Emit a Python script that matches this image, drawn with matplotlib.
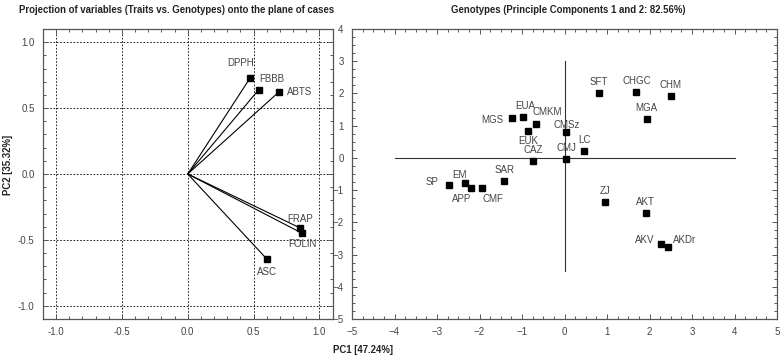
import numpy as np
import matplotlib.pyplot as plt
from matplotlib.ticker import MultipleLocator

plt.rcParams['font.family'] = ['Liberation Sans', 'DejaVu Sans']

# variable loadings (left panel)
traits = ["DPPH", "FBBB", "ABTS", "FRAP", "FOLIN", "ASC"]
load_pc1 = [0.476, 0.54, 0.69, 0.855, 0.87, 0.60]
load_pc2 = [0.732, 0.64, 0.62, -0.41, -0.45, -0.644]

# genotype scores (right panel)
genotypes = ["SFT", "CHGC", "CHM", "MGA", "MGS", "EUA", "CMKM", "EUK", "CMSz",
             "LC", "CAZ", "CMJ", "SP", "EM", "APP", "CMF", "SAR", "ZJ", "AKT",
             "AKV", "AKDr"]
score_pc1 = [0.81, 1.69, 2.50, 1.93, -1.24, -0.98, -0.66, -0.86, 0.04,
             0.47, -0.73, 0.04, -2.72, -2.35, -2.20, -1.94, -1.42, 0.95, 1.91,
             2.27, 2.44]
score_pc2 = [2.00, 2.03, 1.92, 1.22, 1.24, 1.27, 1.06, 0.85, 0.80,
             0.21, -0.09, -0.04, -0.85, -0.78, -0.92, -0.92, -0.72, -1.38, -1.71,
             -2.68, -2.77]

# label offsets in pixels (dx, dy, ha, va)
trait_off = {"DPPH": (4, 10, "right", "bottom"), "FBBB": (0, 6, "left", "bottom"),
             "ABTS": (8, 0, "left", "center"), "FRAP": (0, 4, "center", "bottom"),
             "FOLIN": (0, -6, "center", "top"), "ASC": (0, -8, "center", "top")}
geno_off = {"MGS": (-8, -2, "right", "center"), "EUA": (2, 6, "center", "bottom"),
            "CMKM": (-4, 7, "left", "bottom"), "EUK": (0, -5, "center", "top"),
            "CMSz": (0, 2, "center", "bottom"), "SP": (-10, 3, "right", "center"),
            "EM": (-5, 3, "center", "bottom"), "APP": (-9, -6, "center", "top"),
            "CMF": (11, -6, "center", "top"), "AKV": (-6, 4, "right", "center"),
            "AKDr": (5, 7, "left", "center")}

txt_col = "#444444"
frame_col = "#555555"

fig = plt.figure(figsize=(7.84, 3.61), dpi=100)
ax1 = fig.add_axes([43/784, 1-319/361, 289.5/784, 290/361])
ax2 = fig.add_axes([352/784, 1-319/361, 425/784, 290/361])

for ax in (ax1, ax2):
    for s in ax.spines.values():
        s.set_color(frame_col)
        s.set_linewidth(0.9)
    ax.tick_params(which="both", direction="in", top=True, right=True,
                   colors=frame_col, labelcolor=txt_col, labelsize=7, width=0.7)
    ax.tick_params(which="major", length=3.5, pad=6)
    ax.tick_params(which="minor", length=2)

# left panel
ax1.set_xlim(-1.1, 1.1)
ax1.set_ylim(-1.1, 1.1)
ax1.xaxis.set_major_locator(MultipleLocator(0.5))
ax1.yaxis.set_major_locator(MultipleLocator(0.5))
ax1.xaxis.set_minor_locator(MultipleLocator(0.1))
ax1.yaxis.set_minor_locator(MultipleLocator(0.1))
ax1.xaxis.set_major_formatter(lambda v, p: f"{v:.1f}")
ax1.yaxis.set_major_formatter(lambda v, p: f"{v:.1f}")
ax1.grid(True, which="major", color="black", linestyle=(0, (2, 2)), linewidth=0.6)
for name, x, y in zip(traits, load_pc1, load_pc2):
    ax1.plot([0, x], [0, y], color="black", lw=0.8, zorder=3)
    ax1.plot(x, y, "s", color="black", ms=3.8, zorder=4)
    dx, dy, ha, va = trait_off[name]
    ax1.annotate(name, (x, y), xytext=(dx, dy), textcoords="offset pixels",
                 ha=ha, va=va, fontsize=7, color=txt_col)

# right panel
ax2.set_xlim(-5, 5)
ax2.set_ylim(-5, 4)
ax2.xaxis.set_major_locator(MultipleLocator(1))
ax2.yaxis.set_major_locator(MultipleLocator(1))
ax2.xaxis.set_minor_locator(MultipleLocator(0.25))
ax2.yaxis.set_minor_locator(MultipleLocator(0.25))
ax2.plot([-4, 4], [0, 0], color="#333333", lw=0.8)
ax2.plot([0, 0], [-3.5, 3], color="#333333", lw=0.8)
ax2.plot(score_pc1, score_pc2, "s", color="black", ms=3.8, ls="none", zorder=4)
for name, x, y in zip(genotypes, score_pc1, score_pc2):
    dx, dy, ha, va = geno_off.get(name, (0, 6, "center", "bottom"))
    ax2.annotate(name, (x, y), xytext=(dx, dy), textcoords="offset pixels",
                 ha=ha, va=va, fontsize=7, color=txt_col)

fig.text(177/784, 1-10/361, "Projection of variables (Traits vs. Genotypes) onto the plane of cases",
         ha="center", va="center", fontsize=6.9, fontweight="bold", color="#222222")
fig.text(568/784, 1-10/361, "Genotypes (Principle Components 1 and 2: 82.56%)",
         ha="center", va="center", fontsize=6.9, fontweight="bold", color="#222222")
fig.text(8/784, 1-165/361, "PC2 [35.32%]", rotation=90, ha="center", va="center",
         fontsize=6.9, fontweight="bold", color="#222222")
fig.text(363/784, 1-350/361, "PC1 [47.24%]", ha="center", va="center",
         fontsize=6.9, fontweight="bold", color="#222222")

fig.savefig("out.png", dpi=100)
